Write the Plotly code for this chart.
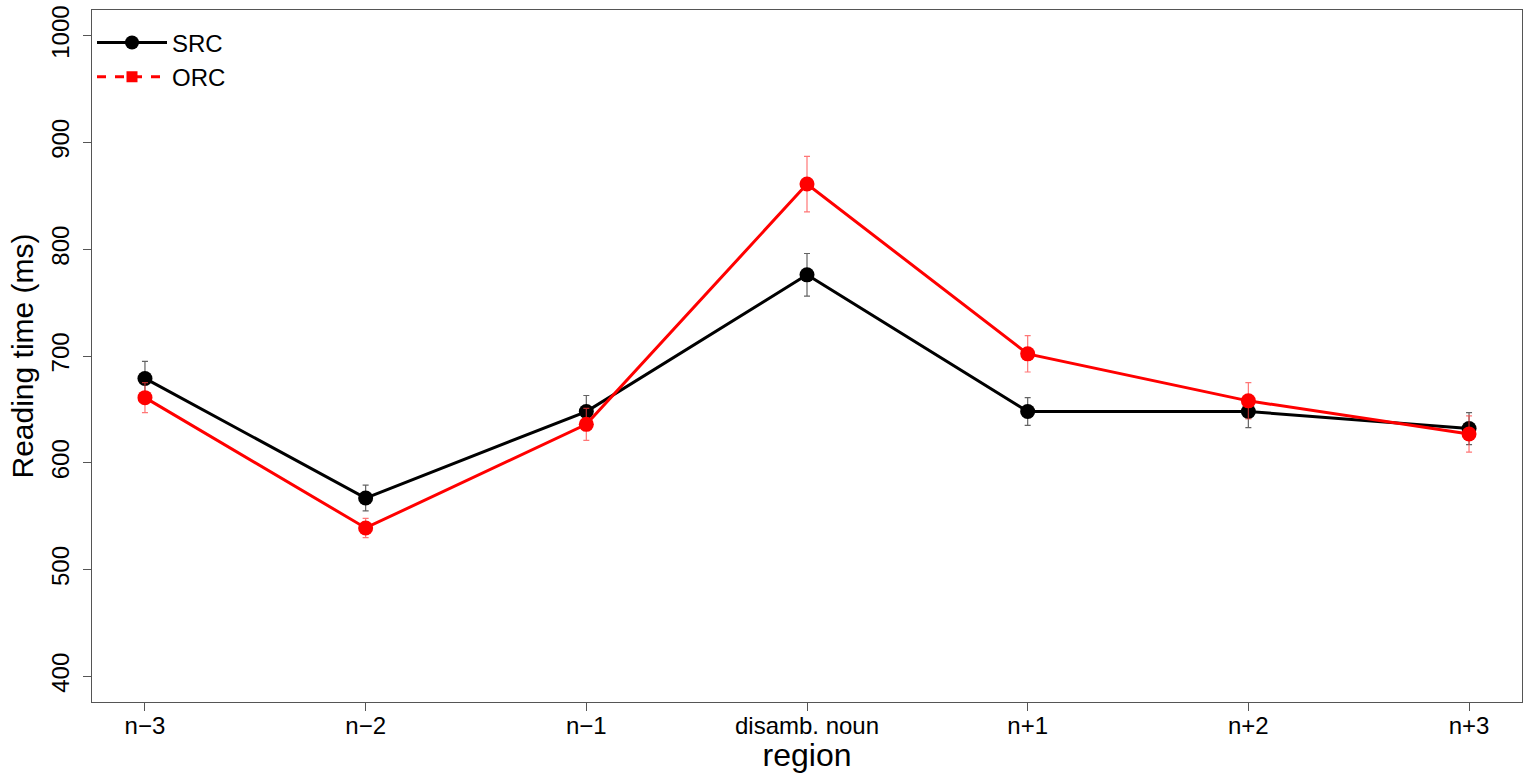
import plotly.graph_objects as go

regions = ["n\u22123", "n\u22122", "n\u22121", "disamb. noun", "n+1", "n+2", "n+3"]
x_pos = [1, 2, 3, 4, 5, 6, 7]
src_mean = [679, 567, 648, 776, 648, 648, 632]
src_err = [16, 12, 15, 20, 13, 15, 15]
orc_mean = [661, 539, 636, 861, 702, 658, 627]
orc_err = [14, 9, 15, 26, 17, 17, 17]
y_ticks = [400, 500, 600, 700, 800, 900, 1000]

FONT = "Liberation Sans, Arial, Helvetica, sans-serif"

fig = go.Figure()

fig.add_trace(go.Scatter(
    x=x_pos, y=src_mean, mode="lines+markers", showlegend=False,
    line=dict(color="black", width=3),
    marker=dict(symbol="circle", size=15, color="black"),
    error_y=dict(type="data", array=src_err, visible=True,
                 color="rgba(60,60,60,0.8)", thickness=1.2, width=3),
))
fig.add_trace(go.Scatter(
    x=x_pos, y=orc_mean, mode="lines+markers", showlegend=False,
    line=dict(color="red", width=3),
    marker=dict(symbol="circle", size=15, color="red"),
    error_y=dict(type="data", array=orc_err, visible=True,
                 color="rgba(255,60,60,0.7)", thickness=1.2, width=3),
))

# legend entries
fig.add_trace(go.Scatter(
    x=[None], y=[None], mode="lines+markers", name="SRC",
    line=dict(color="black", width=3),
    marker=dict(symbol="circle", size=14, color="black"),
))
fig.add_trace(go.Scatter(
    x=[None], y=[None], mode="lines+markers", name="ORC",
    line=dict(color="red", width=3, dash="dash"),
    marker=dict(symbol="square", size=11, color="red"),
))

fig.update_layout(
    width=1533, height=773,
    margin=dict(l=92, r=11, t=10, b=71),
    paper_bgcolor="white", plot_bgcolor="white",
    font=dict(family=FONT, color="black", size=22),
    showlegend=True,
    legend=dict(x=0.0, y=0.985, xanchor="left", yanchor="top",
                bgcolor="rgba(0,0,0,0)", font=dict(size=24),
                itemwidth=70, tracegroupgap=0),
    xaxis=dict(
        range=[0.76, 7.24], tickmode="array", tickvals=x_pos, ticktext=regions,
        showgrid=False, zeroline=False, showline=True, mirror=True,
        linecolor="#555555", linewidth=1.2, automargin=False,
        ticks="outside", ticklen=8, tickcolor="#555555", tickwidth=1.2,
        tickfont=dict(size=24), ticklabelstandoff=-6,
        title=dict(text="region", font=dict(size=32), standoff=0),
    ),
    yaxis=dict(
        range=[376, 1024], tickmode="array", tickvals=y_ticks,
        ticktext=[str(v) for v in y_ticks], tickangle=-90,
        showgrid=False, zeroline=False, showline=True, mirror=True,
        linecolor="#555555", linewidth=1.2, automargin=False,
        ticks="outside", ticklen=8, tickcolor="#555555", tickwidth=1.2,
        tickfont=dict(size=24), ticklabelstandoff=4,
        title=dict(text="Reading time (ms)", font=dict(size=30), standoff=4),
    ),
)

fig.write_html("out.html")
